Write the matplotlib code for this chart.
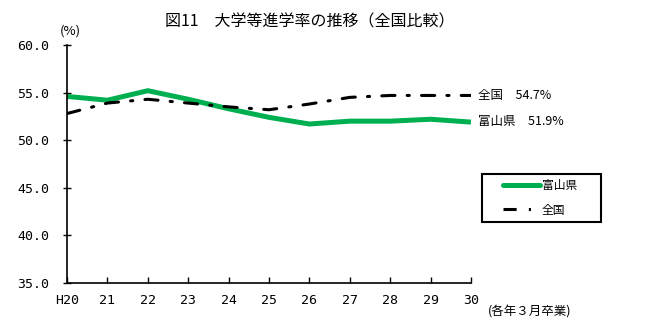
import matplotlib
matplotlib.use("Agg")
import matplotlib.pyplot as plt
from matplotlib.lines import Line2D
from matplotlib.patches import Rectangle

plt.rcParams['font.family'] = ['Noto Sans CJK JP', 'DejaVu Sans']

years = ["H20", "21", "22", "23", "24", "25", "26", "27", "28", "29", "30"]
toyama = [54.6, 54.2, 55.2, 54.3, 53.3, 52.4, 51.7, 52.0, 52.0, 52.2, 51.9]
zenkoku = [52.8, 53.9, 54.3, 53.9, 53.5, 53.2, 53.8, 54.5, 54.7, 54.7, 54.7]
yticks = [35.0, 40.0, 45.0, 50.0, 55.0, 60.0]

title = "図11　大学等進学率の推移（全国比較）"
label_toyama = "富山県"
label_zenkoku = "全国"
unit = "(%)"
xnote = "(各年３月卒業)"

W, H = 657, 324
fig = plt.figure(figsize=(W/100, H/100), dpi=100)
ax = fig.add_axes([67/W, 1-283/H, (471-67)/W, (283-45)/H])

x = list(range(len(years)))
green = "#00B050"
dash = (0, (4.3, 4.0, 0.7, 4.0))
ax.plot(x, toyama, color=green, lw=3.6, solid_capstyle='butt', solid_joinstyle='round')
ax.plot(x, zenkoku, color="black", lw=2.2, linestyle=dash, dash_capstyle='round')

ax.set_xlim(0, len(years) - 1)
ax.set_ylim(35, 60)
ax.set_xticks(x)
ax.set_xticklabels(years, family='DejaVu Sans Mono', fontsize=9.5)
ax.set_yticks(yticks)
ax.set_yticklabels([f"{v:.1f}" for v in yticks], family='DejaVu Sans Mono', fontsize=9.5)
ax.tick_params(axis='x', direction='in', length=4, width=1, pad=8)
ax.tick_params(axis='y', direction='inout', length=6, width=1, pad=10)
for s in ['top', 'right']:
    ax.spines[s].set_visible(False)
for s in ['left', 'bottom']:
    ax.spines[s].set_linewidth(1.2)

fig.text(310/W, 1-22/H, title, ha='center', va='center', fontsize=11.5)
fig.text(60/W, 1-31/H, unit, ha='left', va='center', fontsize=9.5)
fig.text(488/W, 1-312/H, xnote, ha='left', va='center', fontsize=9)

ax.annotate(f"{label_zenkoku}　{zenkoku[-1]}%", xy=(x[-1], zenkoku[-1]),
            xytext=(5, 0), textcoords='offset points', ha='left', va='center',
            fontsize=9, annotation_clip=False)
ax.annotate(f"{label_toyama}　{toyama[-1]}%", xy=(x[-1], toyama[-1]),
            xytext=(5, 0.5), textcoords='offset points', ha='left', va='center',
            fontsize=9, annotation_clip=False)

# legend box
fig.add_artist(Rectangle((482/W, 1-222/H), (601-482)/W, (222-174)/H,
                         transform=fig.transFigure, fill=False,
                         edgecolor='black', lw=1.5))
handles = [Line2D([], [], color=green, lw=3.6, solid_capstyle='round'),
           Line2D([], [], color='black', lw=2.2, linestyle=dash)]
leg = fig.legend(handles, [label_toyama, label_zenkoku], loc='center left',
                 bbox_to_anchor=(503/W, 1-198/H), frameon=False, fontsize=8.5,
                 handlelength=3.1, handletextpad=0.2, borderpad=0,
                 labelspacing=0.95, borderaxespad=0)

fig.savefig("out.png", dpi=100)
